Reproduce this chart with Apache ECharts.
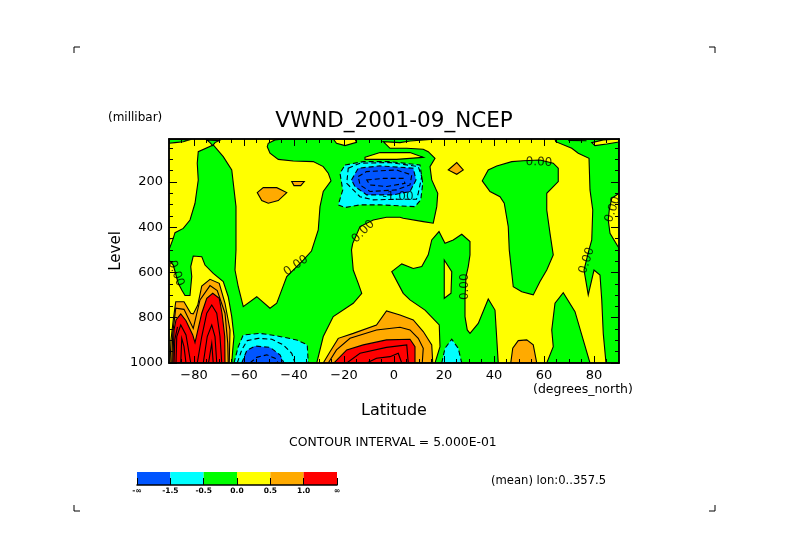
<!DOCTYPE html>
<html>
<head>
<meta charset="utf-8">
<style>
html, body { margin: 0; padding: 0; background: #fff; }
#chart { width: 789px; height: 558px; }
</style>
<script src="https://cdn.jsdelivr.net/npm/echarts@6/dist/echarts.min.js"></script>
</head>
<body>
<div id="chart"></div>
<script>
// contour outlines as [latitude, level]
var greenMain = [[-78.3,66],[-78.7,117],[-78.3,191],[-79.6,294],[-81.6,368],[-84.3,405],[-87.6,424],[-88.3,449],[-90,500],[-90,545],[-88.3,567],[-87.2,611],[-86.3,648],[-84.9,677],[-83.6,702],[-81.6,702],[-80.9,618],[-81.3,574],[-80.3,527],[-76.9,530],[-75.6,567],[-72.3,604],[-68.3,640],[-66.3,707],[-64.9,795],[-64,883],[-64.5,942],[-64.9,1000],[-30.9,1000],[-28.3,883],[-24.3,795],[-16.3,736],[-12.9,692],[-14.3,648],[-16.3,589],[-17,500],[-16.5,471],[-15.6,449],[-13.6,397],[-8.3,368],[-3,356],[2.4,356],[3.7,360],[11.7,375],[15.7,382],[17.1,309],[17.5,250],[15.1,191],[14.4,132],[16.4,95],[13.7,66],[11.7,55],[5.1,51],[-1.6,51],[-4.3,22],[2.4,26],[6.4,19],[15.7,11],[15.7,10],[-44.3,10],[-47.6,14],[-50.3,29],[-50.7,44],[-49.6,73],[-46.3,100],[-40.3,107],[-32.3,110],[-28.3,132],[-26.3,161],[-25.2,195],[-28.3,242],[-29.6,309],[-30.3,412],[-33,505],[-36.3,545],[-42.9,618],[-44.9,677],[-46.9,736],[-49.6,758],[-54.9,707],[-60.3,751],[-62.3,663],[-63.6,589],[-63.2,500],[-63.2,309],[-64.9,147],[-68.3,88],[-72.3,36]];
var greenTopLeft = [[-90,10],[-81.9,14],[-84.3,22],[-87.6,26],[-90,29]];
var greenTopNub = [[-74.9,14],[-69.9,17],[-71.6,26],[-72.5,39],[-73.6,26]];
var greenLat50 = [[41.1,129],[47.1,110],[51.7,106],[58.4,103],[63.7,117],[65.7,139],[65.7,198],[61.1,250],[61.1,324],[62.4,427],[63.7,522],[61.1,589],[58.4,640],[55.7,699],[51.1,685],[47.7,663],[46.1,500],[45.7,397],[44.1,294],[42.4,265],[38.4,242],[35.3,195],[37.7,147]];
var greenRight = [[64.4,10],[64.7,22],[71.1,51],[73.7,73],[78,95],[78.4,235],[79.5,324],[79.1,456],[78,500],[77.1,540],[76,589],[77.7,699],[80,589],[82.4,611],[83.1,721],[83.7,869],[84.8,1000],[90,1000],[90,493],[86.4,427],[85.7,368],[86.1,324],[87.1,272],[90,250],[90,10]];
var greenLat20 = [[-0.9,596],[3.1,562],[7.7,582],[11.1,574],[13.7,522],[15.1,456],[18,419],[20.4,471],[23.7,456],[27.1,431],[30.4,463],[30.4,522],[29.7,574],[28.8,618],[28.4,707],[28.4,795],[29.3,854],[30.4,869],[33.7,825],[37.7,717],[40.4,766],[41.7,1000],[16.4,1000],[18.4,928],[18.1,832],[12.4,766],[6.4,721],[3.7,692]];
var greenLat70 = [[61.1,1000],[63.7,928],[63.1,854],[64.4,736],[67.7,689],[72.4,773],[75.1,876],[78.4,1000]];

var yellowHole = [[20.1,545],[23.1,596],[22.8,692],[20.1,714]];
var yellowTop = [[-24.3,10],[-23,29],[-19.6,39],[-15,25],[-15.6,10]];
var yellowTopRight = [[79.1,26],[80.4,39],[85.1,32],[90,23],[90,10],[83.7,14]];
var yellowLens = [[-11.6,91],[-5.6,70],[6.4,70],[11.7,91],[1.1,100],[-11.6,100]];
var stubLeftWall = [[-90,452],[-88.3,449]];
var stubTopRight = [[69.7,16],[77,18]];

var orangeSmallA = [[-54.7,247],[-52.3,225],[-46.9,225],[-42.9,247],[-46.3,282],[-50.3,294],[-52.9,282]];
var orangeSmallB = [[-40.9,198],[-35.9,198],[-37.3,216],[-40,216]];
var orangeDiamond = [[21.7,147],[25.1,114],[27.7,147],[25.1,166]];
var orangeLat50 = [[46.7,1000],[47.5,935],[49.7,901],[53.1,898],[55.7,920],[57.1,1000]];
var orangeCenter = [[-28.3,1000],[-25.6,950],[-22.3,891],[-16.3,869],[-7,832],[-3,770],[2.4,788],[7.7,810],[11.7,861],[15.1,920],[15.5,1000]];
var orangeCenterInner = [[-26.3,1000],[-23,942],[-17.6,891],[-7,854],[2.4,842],[6.4,854],[9.7,891],[11.7,935],[11.3,1000]];
var orangeLeft = [[-89.6,1000],[-89.2,898],[-88.3,810],[-87.3,729],[-84,729],[-81.3,780],[-80.3,783],[-78.5,744],[-76.9,660],[-73.6,630],[-69.9,648],[-67.6,736],[-65.6,854],[-65.9,1000]];
var orangeLeftInner = [[-88.9,1000],[-88.5,869],[-87.3,758],[-84,763],[-80.3,847],[-77.6,721],[-73.6,658],[-70.7,680],[-67.6,780],[-66.5,913],[-66.3,1000]];

var redCenter = [[-24,1000],[-18.9,942],[-12.3,920],[-3,898],[6.4,895],[8.4,928],[8.4,1000]];
var redCenterA = [[-18.9,1000],[-13.6,957],[-3,931],[5.1,920],[5.7,1000]];
var redCenterB = [[-10.9,1000],[-7,979],[-1.6,972],[1.7,957],[3.1,1000]];
var redLeft = [[-88.5,1000],[-88,854],[-87.2,810],[-85.3,783],[-83.2,813],[-80.5,876],[-79.6,910],[-76.9,780],[-74.9,714],[-72.5,692],[-69.9,714],[-68.8,780],[-67.7,883],[-67.6,1000]];
var redLeftA = [[-87.2,1000],[-86.9,883],[-85.3,832],[-83.2,876],[-81.3,1000]];
var redLeftB = [[-85.3,1000],[-84.9,891],[-84,928],[-83.2,1000]];
var redLeftC = [[-88,1000],[-87.7,898],[-86.6,840]];
var redLeftD = [[-78.7,1000],[-76.9,883],[-74.9,780],[-72.9,744],[-70.9,780],[-69.6,883],[-68.9,1000]];
var redLeftE = [[-76.3,1000],[-74.7,883],[-72.9,832],[-71.6,883],[-70.9,1000]];
var redLeftF = [[-74.2,1000],[-72.9,913],[-72.3,1000]];

var cyanUpper = [[-19.6,125],[-12.3,110],[-1.6,110],[10.4,125],[11.5,206],[10.7,279],[8.4,309],[-5.6,301],[-13.6,301],[-19.6,313],[-22.3,301],[-20.5,235],[-21.6,161]];
var cyanUpperRing = [[-18.3,139],[-13.6,117],[-1.6,114],[9.7,132],[11.1,176],[9.7,250],[9,276],[2.4,276],[-8.3,279],[-13.6,265],[-18.9,206]];
var blueUpper = [[-17,191],[-14.3,139],[-5.6,129],[7.7,139],[8.8,191],[6.4,242],[-0.3,257],[-10.9,257],[-15.6,220]];
var blueUpperA = [[-14.3,176],[-11,154],[1,147],[7.1,169],[6.4,213],[1,235],[-9.6,242],[-13.6,213]];
var blueUpperB = [[-10.9,191],[-4.3,184],[3.7,184],[4.4,206],[-2.9,220],[-9.6,213]];
var cyanLower = [[-64,1000],[-62.3,928],[-60.3,876],[-53.6,869],[-46.9,880],[-38.9,898],[-34.7,920],[-34.3,1000]];
var cyanLowerRing = [[-62.7,1000],[-60.9,942],[-58.7,901],[-54.3,891],[-48.9,895],[-44.3,920],[-40.9,957],[-39.6,1000]];
var blueLower = [[-60.9,1000],[-58.9,945],[-55.6,925],[-49.6,931],[-45.6,964],[-44,1000]];
var blueLowerA = [[-57.6,1000],[-54.9,975],[-50.9,964],[-47.6,979],[-46.3,1000]];
var cyanLat20 = [[19.1,1000],[20.4,935],[23.1,895],[25.7,935],[27.1,1000]];

var contourPoints = [[-87.2,604],[-39.2,570],[-12.3,419],[1.6,266],[58,113],[28.5,663],[77.1,547],[87.5,321]];
var contourTexts = ['0.00','0.00','0.00','-1.00','0.00','0.00','0.00','0.00'];
var contourAngles = [-70,35,45,0,-2,90,72,72];

var latLabels = [-80,-60,-40,-20,0,20,40,60,80];
var latTicks = [-85,-75,-70,-65,-55,-50,-45,-35,-30,-25,-15,-10,-5,5,10,15,25,30,35,45,50,55,65,70,75,85];
var levelLabels = [200,400,600,800,1000];
var levelTicks = [50,100,150,250,300,350,450,500,550,650,700,750,850,900,950];

var bandLabels = ['-\u221e','-1.5','-0.5','0.0','0.5','1.0','\u221e'];
var bandColors = ['#0055ff','#00ffff','#00ff00','#ffff00','#ffaa00','#ff0000'];

var BLUE = bandColors[0], CYAN = bandColors[1], GREEN = bandColors[2], YELLOW = bandColors[3], ORANGE = bandColors[4], RED = bandColors[5];

function fill(pts, color, dashed) { return { pts: pts, color: color, closed: true, dashed: !!dashed }; }
function line(pts, dashed) { return { pts: pts, color: null, closed: false, dashed: !!dashed }; }
function ring(pts) { return { pts: pts, color: null, closed: true, dashed: true }; }

// painted in this order, later ones on top
var layers = [
    fill(greenMain, GREEN), fill(greenTopLeft, GREEN), fill(greenTopNub, GREEN), fill(greenLat50, GREEN),
    fill(greenRight, GREEN), fill(greenLat20, GREEN), fill(greenLat70, GREEN),
    fill(yellowHole, YELLOW), fill(yellowTop, YELLOW), fill(yellowTopRight, YELLOW), fill(yellowLens, YELLOW),
    line(stubLeftWall), line(stubTopRight),
    fill(orangeSmallA, ORANGE), fill(orangeSmallB, ORANGE), fill(orangeDiamond, ORANGE), fill(orangeLat50, ORANGE),
    fill(orangeCenter, ORANGE), line(orangeCenterInner), fill(orangeLeft, ORANGE), line(orangeLeftInner),
    fill(redCenter, RED), line(redCenterA), line(redCenterB),
    fill(redLeft, RED), line(redLeftA), line(redLeftB), line(redLeftC), line(redLeftD), line(redLeftE), line(redLeftF),
    fill(cyanUpper, CYAN, true), ring(cyanUpperRing), fill(blueUpper, BLUE, true), ring(blueUpperA), ring(blueUpperB),
    fill(cyanLower, CYAN, true), line(cyanLowerRing, true), fill(blueLower, BLUE, true), line(blueLowerA, true),
    fill(cyanLat20, CYAN, true)
];

var FONT = 'DejaVu Sans';

function renderLayer(params, api) {
    var layer = layers[params.dataIndex];
    var points = layer.pts.map(function(p) { return api.coord(p); });
    return {
        type: layer.closed ? 'polygon' : 'polyline',
        shape: { points: points },
        style: {
            fill: layer.color || 'none',
            stroke: '#000',
            lineWidth: 1.1,
            lineDash: layer.dashed ? [5, 3] : null
        }
    };
}

function renderBand(params, api) {
    var a = api.coord([api.value(0), 0]);
    var b = api.coord([api.value(0) + 1, 1]);
    return {
        type: 'rect',
        shape: { x: a[0], y: b[1], width: b[0] - a[0], height: a[1] - b[1] },
        style: { fill: bandColors[params.dataIndex] }
    };
}

function latAxis(position, ticks, len, labels) {
    return {
        type: 'value', position: position, min: -90, max: 90, gridIndex: 0, z: 5,
        splitLine: { show: false },
        axisLine: { show: true, onZero: false, lineStyle: { color: '#000', width: 1.5 } },
        axisTick: { show: true, inside: true, length: len, customValues: ticks, lineStyle: { color: '#000', width: 1 } },
        axisLabel: labels ? {
            show: true, customValues: labels, margin: 6, color: '#000', fontFamily: FONT, fontSize: 13,
            formatter: function(v) { return String(v).replace('-', '\u2212'); }
        } : { show: false }
    };
}

function levelAxis(position, ticks, len, labels) {
    return {
        type: 'value', position: position, min: 10, max: 1000, inverse: true, gridIndex: 0, z: 5,
        splitLine: { show: false },
        axisLine: { show: true, onZero: false, lineStyle: { color: '#000', width: 1.5 } },
        axisTick: { show: true, inside: true, length: len, customValues: ticks, lineStyle: { color: '#000', width: 1 } },
        axisLabel: labels ? {
            show: true, customValues: labels, margin: 6, color: '#000', fontFamily: FONT, fontSize: 13,
            verticalAlignMaxLabel: 'middle',
            formatter: function(v) { return String(v); }
        } : { show: false }
    };
}

var xBottom = latAxis('bottom', latLabels, 7, latLabels);
xBottom.name = 'Latitude';
xBottom.nameLocation = 'middle';
xBottom.nameGap = 40;
xBottom.nameTextStyle = { color: '#000', fontFamily: FONT, fontSize: 16 };

var yLeft = levelAxis('left', levelLabels, 8, levelLabels);
yLeft.name = 'Level';
yLeft.nameLocation = 'middle';
yLeft.nameGap = 45;
yLeft.nameMoveOverlap = false;
yLeft.nameTextStyle = { color: '#000', fontFamily: FONT, fontSize: 15 };

function cropMark(points) {
    return { type: 'polyline', shape: { points: points }, style: { fill: 'none', stroke: '#000', lineWidth: 1 } };
}

function plainText(x, y, text, size) {
    return { type: 'text', x: x, y: y, style: { text: text, fill: '#000', font: size + 'px "' + FONT + '"', textVerticalAlign: 'middle' } };
}

var chart = echarts.init(document.getElementById('chart'));
chart.setOption({
    animation: false,
    backgroundColor: '#fff',
    title: {
        text: 'VWND_2001-09_NCEP', left: 389, top: 105, textAlign: 'center',
        textStyle: { color: '#000', fontFamily: FONT, fontSize: 21.5, fontWeight: 'normal' }
    },
    grid: [
        { left: 169, top: 139, width: 450, height: 224, backgroundColor: YELLOW, show: true, borderWidth: 0 },
        { left: 137, top: 472, width: 200, height: 13 }
    ],
    xAxis: [
        xBottom,
        latAxis('bottom', latTicks, 4),
        latAxis('top', latLabels, 7),
        latAxis('top', latTicks, 4),
        {
            type: 'value', gridIndex: 1, min: 0, max: 6, interval: 1, position: 'bottom', z: 5,
            splitLine: { show: false },
            axisLine: { show: true, lineStyle: { color: '#000', width: 1.5 } },
            axisTick: { show: true, inside: true, length: 7, lineStyle: { color: '#000', width: 1 } },
            axisLabel: {
                margin: 2, color: '#000', fontFamily: FONT, fontSize: 7.5, fontWeight: 'bold',
                formatter: function(v) { return bandLabels[v]; }
            }
        }
    ],
    yAxis: [
        yLeft,
        levelAxis('left', levelTicks, 4),
        levelAxis('right', levelLabels, 8),
        levelAxis('right', levelTicks, 4),
        { type: 'value', gridIndex: 1, min: 0, max: 1, show: false }
    ],
    series: [
        {
            type: 'custom', xAxisIndex: 0, yAxisIndex: 0, clip: true,
            renderItem: renderLayer,
            data: layers.map(function(l, i) { return [i]; }),
            z: 2
        },
        {
            type: 'scatter', xAxisIndex: 0, yAxisIndex: 0, symbolSize: 0, z: 3,
            data: contourPoints.map(function(p, i) {
                return {
                    value: p,
                    label: {
                        show: true, position: 'inside', formatter: contourTexts[i], rotate: contourAngles[i],
                        color: '#000', fontFamily: FONT, fontSize: 12
                    }
                };
            })
        },
        {
            type: 'custom', xAxisIndex: 4, yAxisIndex: 4,
            renderItem: renderBand,
            data: bandColors.map(function(c, i) { return [i]; }),
            z: 2
        }
    ],
    graphic: [
        cropMark([[80,47],[74,47],[74,53]]),
        cropMark([[709,47],[715,47],[715,53]]),
        cropMark([[74,505],[74,511],[80,511]]),
        cropMark([[709,511],[715,511],[715,505]]),
        plainText(108, 118, '(millibar)', 12),
        plainText(533, 390, '(degrees_north)', 12.5),
        plainText(289, 443, 'CONTOUR INTERVAL = 5.000E-01', 12.4),
        plainText(491, 481, '(mean) lon:0..357.5', 11.6)
    ]
});
</script>
</body>
</html>
